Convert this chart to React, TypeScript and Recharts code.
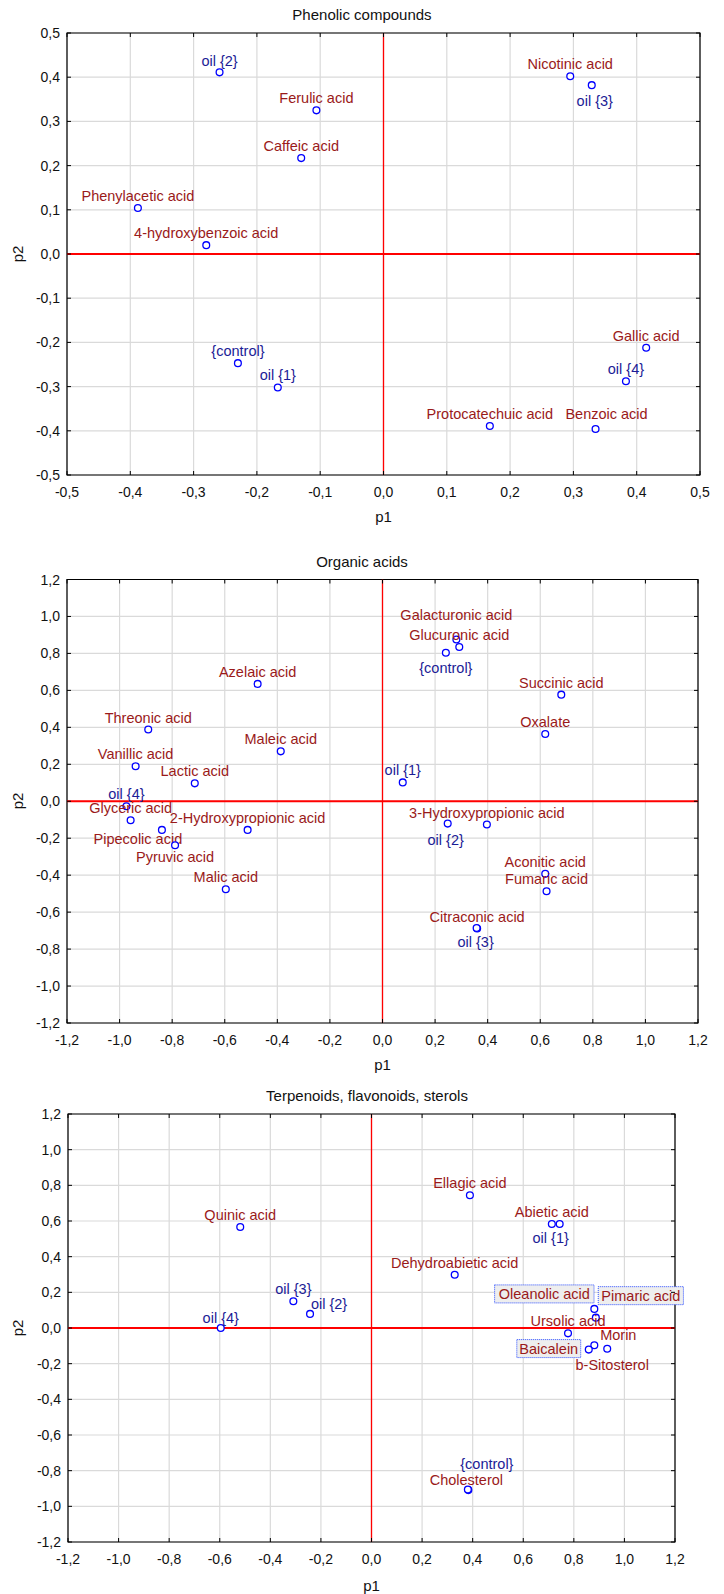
import { ScatterChart, Scatter, XAxis, YAxis, CartesianGrid, ReferenceLine, ReferenceArea } from "recharts";

const FONT = '"Liberation Sans", Arial, sans-serif';

// Phenolic compounds
const phenolicNames = ["oil {2}", "Ferulic acid", "Caffeic acid", "Phenylacetic acid", "4-hydroxybenzoic acid", "Nicotinic acid", "oil {3}", "{control}", "oil {1}", "Gallic acid", "oil {4}", "Protocatechuic acid", "Benzoic acid"];
const phenolicP1 = [-0.259, -0.106, -0.130, -0.388, -0.280, 0.295, 0.329, -0.230, -0.167, 0.415, 0.383, 0.168, 0.335];
const phenolicP2 = [0.411, 0.325, 0.217, 0.104, 0.020, 0.402, 0.382, -0.247, -0.302, -0.212, -0.288, -0.389, -0.396];
const phenolicTicks = [-0.5, -0.4, -0.3, -0.2, -0.1, 0, 0.1, 0.2, 0.3, 0.4, 0.5];

// Organic acids
const organicNames = ["Galacturonic acid", "Glucuronic acid", "{control}", "Azelaic acid", "Succinic acid", "Threonic acid", "Oxalate", "Maleic acid", "Vanillic acid", "Lactic acid", "oil {1}", "oil {4}", "Glyceric acid", "Pipecolic acid", "Pyruvic acid", "2-Hydroxypropionic acid", "Malic acid", "3-Hydroxypropionic acid", "oil {2}", "Aconitic acid", "Fumaric acid", "Citraconic acid", "oil {3}"];
const organicP1 = [0.281, 0.292, 0.241, -0.475, 0.680, -0.891, 0.619, -0.387, -0.939, -0.714, 0.077, -0.974, -0.958, -0.839, -0.789, -0.513, -0.596, 0.397, 0.248, 0.619, 0.624, 0.360, 0.358];
const organicP2 = [0.875, 0.835, 0.804, 0.635, 0.577, 0.388, 0.364, 0.270, 0.189, 0.097, 0.102, -0.027, -0.103, -0.155, -0.238, -0.155, -0.476, -0.126, -0.121, -0.393, -0.487, -0.689, -0.686];

// Terpenoids, flavonoids, sterols
const terpNames = ["Ellagic acid", "Abietic acid", "oil {1}", "Quinic acid", "Dehydroabietic acid", "oil {3}", "oil {2}", "oil {4}", "Oleanolic acid", "Pimaric acid", "Ursolic acid", "Morin", "Baicalein", "b-Sitosterol", "Cholesterol", "{control}"];
const terpP1 = [0.389, 0.713, 0.744, -0.519, 0.329, -0.309, -0.243, -0.596, 0.881, 0.887, 0.777, 0.881, 0.859, 0.932, 0.383, 0.381];
const terpP2 = [0.744, 0.583, 0.583, 0.566, 0.299, 0.150, 0.079, 0.0, 0.107, 0.058, -0.030, -0.097, -0.121, -0.116, -0.909, -0.906];

const wideTicks = [-1.2, -1.0, -0.8, -0.6, -0.4, -0.2, 0, 0.2, 0.4, 0.6, 0.8, 1.0, 1.2];

// label placement (text centre relative to point), default above
const phenolicLabelPos: Record<string, [number, number]> = {
  "oil {3}": [3, 16],
  "Benzoic acid": [11, -15],
  "oil {2}": [0, -11],
};
const organicLabelPos: Record<string, [number, number]> = {
  "Galacturonic acid": [0, -25],
  "{control}": [0, 15],
  "Pipecolic acid": [-24, 9],
  "Pyruvic acid": [0, 12],
  "oil {2}": [-2, 16],
  "oil {3}": [-1, 14],
};
const terpLabelPos: Record<string, [number, number]> = {
  "oil {1}": [-9, 14],
  "oil {2}": [19, -10],
  "oil {4}": [0, -10],
  "Oleanolic acid": [-50, -15],
  "Pimaric acid": [45, -22],
  "Baicalein": [-40, -1],
  "Morin": [24, -10],
  "b-Sitosterol": [5, 16],
  "Cholesterol": [-2, -10],
  "{control}": [19, -26],
};
const boxedLabels = ["Oleanolic acid", "Pimaric acid", "Baicalein"];

const fmt = (v: number) => v.toFixed(1).replace(".", ",");

type Geo = { top: number; height: number; left: number; right: number; plotTop: number; plotBottom: number; titleX: number; titleY: number; p1Y: number };

function Panel({ title, names, p1, p2, ticks, labelPos, geo }: { title: string; names: string[]; p1: number[]; p2: number[]; ticks: number[]; labelPos: Record<string, [number, number]>; geo: Geo }) {
  const data = names.map((name, i) => ({ name, p1: p1[i], p2: p2[i] }));
  const lo = ticks[0];
  const hi = ticks[ticks.length - 1];
  const pt = geo.plotTop - geo.top;
  const pb = geo.plotBottom - geo.top;
  const xAxisH = 30;
  const yAxisW = 60;
  const margin = { top: pt, bottom: geo.height - pb - xAxisH, left: geo.left - yAxisW, right: 724 - geo.right };

  const xTick = (props: any) => {
    const { x, payload } = props;
    return (
      <g>
        <line x1={x} x2={x} y1={pb} y2={pb - 4} stroke="#000" />
        <line x1={x} x2={x} y1={pt} y2={pt + 4} stroke="#000" />
        <text x={x} y={pb + 17} textAnchor="middle" dominantBaseline="central" fontSize={14} fill="#111" fontFamily={FONT}>{fmt(payload.value)}</text>
      </g>
    );
  };
  const yTick = (props: any) => {
    const { y, payload } = props;
    return (
      <g>
        <line x1={geo.left} x2={geo.left + 4} y1={y} y2={y} stroke="#000" />
        <line x1={geo.right - 4} x2={geo.right} y1={y} y2={y} stroke="#000" />
        <text x={geo.left - 7} y={y} textAnchor="end" dominantBaseline="central" fontSize={14} fill="#111" fontFamily={FONT}>{fmt(payload.value)}</text>
      </g>
    );
  };

  const shape = (props: any) => {
    const { cx, cy, payload } = props;
    const name: string = payload.name;
    const isSample = name.startsWith("oil") || name.startsWith("{");
    const [dx, dy] = labelPos[name] ?? [0, -12];
    const boxed = boxedLabels.includes(name);
    const w = name.length * 7.1;
    return (
      <g>
        <circle cx={cx} cy={cy} r={3.4} fill="#fff" stroke="#0000ff" strokeWidth={1.3} />
        {boxed && (
          <rect x={cx + dx - w / 2} y={cy + dy - 9} width={w} height={18} fill="#eeeeee" stroke="#2a4cff" strokeWidth={1} strokeDasharray="1 1" />
        )}
        <text x={cx + dx} y={cy + dy} textAnchor="middle" dominantBaseline="central" fontSize={14.5} fontFamily={FONT} fill={isSample ? "#1c1c96" : "#9a1a1a"}>{name}</text>
      </g>
    );
  };

  return (
    <div style={{ position: "absolute", left: 0, top: geo.top, width: 724, height: geo.height }}>
      <ScatterChart width={724} height={geo.height} margin={margin} style={{ overflow: "visible" }}>
        <CartesianGrid stroke="#dadada" strokeWidth={1.2} />
        <XAxis type="number" dataKey="p1" domain={[lo, hi]} ticks={ticks} height={xAxisH} tick={xTick} tickLine={false} axisLine={false} interval={0} />
        <YAxis type="number" dataKey="p2" domain={[lo, hi]} ticks={ticks} width={yAxisW} tick={yTick} tickLine={false} axisLine={false} interval={0} />
        <ReferenceArea x1={lo} x2={hi} y1={lo} y2={hi} fill="none" stroke="#000" strokeWidth={1.2} fillOpacity={0} />
        <ReferenceLine x={0} stroke="#ff0000" strokeWidth={1.3} />
        <ReferenceLine y={0} stroke="#ff0000" strokeWidth={1.8} />
        <Scatter data={data} dataKey="p2" shape={shape} isAnimationActive={false} />
      </ScatterChart>
      <div style={{ position: "absolute", left: geo.titleX - 200, width: 400, top: geo.titleY - geo.top - 9, height: 18, lineHeight: "18px", textAlign: "center", fontSize: 15, fontFamily: FONT, color: "#111" }}>{title}</div>
      <div style={{ position: "absolute", left: (geo.left + geo.right) / 2 - 50, width: 100, top: geo.p1Y - geo.top - 9, height: 18, lineHeight: "18px", textAlign: "center", fontSize: 15, fontFamily: FONT, color: "#111" }}>p1</div>
      <div style={{ position: "absolute", left: 18 - 50, width: 100, top: (pt + pb) / 2 - 9, height: 18, lineHeight: "18px", textAlign: "center", fontSize: 15, fontFamily: FONT, color: "#111", transform: "rotate(-90deg)" }}>p2</div>
    </div>
  );
}

export default function App() {
  return (
    <div style={{ position: "absolute", left: 0, top: 0, width: 724, height: 1594, background: "#fff", overflow: "hidden" }}>
      <Panel title="Phenolic compounds" names={phenolicNames} p1={phenolicP1} p2={phenolicP2} ticks={phenolicTicks} labelPos={phenolicLabelPos}
        geo={{ top: 0, height: 535, left: 67, right: 700, plotTop: 33, plotBottom: 475, titleX: 362, titleY: 15, p1Y: 517 }} />
      <Panel title="Organic acids" names={organicNames} p1={organicP1} p2={organicP2} ticks={wideTicks} labelPos={organicLabelPos}
        geo={{ top: 540, height: 535, left: 67, right: 698, plotTop: 579.5, plotBottom: 1023, titleX: 362, titleY: 562, p1Y: 1065 }} />
      <Panel title="Terpenoids, flavonoids, sterols" names={terpNames} p1={terpP1} p2={terpP2} ticks={wideTicks} labelPos={terpLabelPos}
        geo={{ top: 1080, height: 514, left: 68, right: 675, plotTop: 1114, plotBottom: 1542, titleX: 367, titleY: 1096, p1Y: 1586 }} />
    </div>
  );
}
